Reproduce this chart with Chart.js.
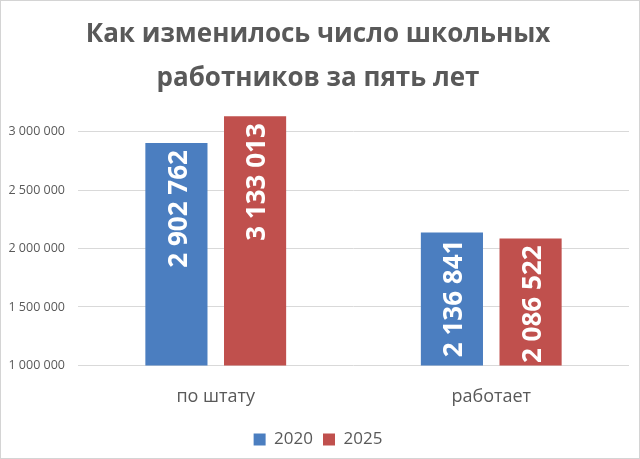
<!DOCTYPE html>
<html>
<head>
<meta charset="utf-8">
<script src="https://cdn.jsdelivr.net/npm/chart.js@4"></script>
<style>
html,body{margin:0;padding:0;background:#fff;}
#wrap{position:absolute;left:0;top:0;width:638px;height:457px;border:1px solid #d4d4d4;background:#fff;}
canvas{display:block;}
</style>
</head>
<body>
<div id="wrap"><canvas id="c" width="638" height="457"></canvas></div>
<script>
const categories = ['по штату', 'работает'];
const seriesNames = ['2020', '2025'];
const values2020 = [2902762, 2136841];
const values2025 = [3133013, 2086522];
const yTicks = [1000000, 1500000, 2000000, 2500000, 3000000];
const titleLines = ['Как изменилось число школьных', 'работников за пять лет'];

const fmt = v => String(v).replace(/\B(?=(\d{3})+(?!\d))/g, ' ');

const barLabels = {
  id: 'barLabels',
  afterDatasetsDraw(chart) {
    const ctx = chart.ctx;
    ctx.save();
    ctx.fillStyle = '#ffffff';
    ctx.font = 'bold 26px "Open Sans", sans-serif';
    chart.data.datasets.forEach((ds, di) => {
      chart.getDatasetMeta(di).data.forEach((bar, i) => {
        ctx.save();
        ctx.translate(bar.x + 2, bar.y + 7);
        ctx.rotate(-Math.PI / 2);
        ctx.textAlign = 'right';
        ctx.textBaseline = 'middle';
        ctx.fillText(fmt(ds.data[i]), 0, 1);
        ctx.restore();
      });
    });
    ctx.restore();
  }
};

new Chart(document.getElementById('c'), {
  type: 'bar',
  data: {
    labels: categories,
    datasets: [
      { label: seriesNames[0], data: values2020, backgroundColor: '#4b7ec0', categoryPercentage: 0.571, barPercentage: 0.79 },
      { label: seriesNames[1], data: values2025, backgroundColor: '#c0504d', categoryPercentage: 0.571, barPercentage: 0.79 }
    ]
  },
  options: {
    responsive: false,
    animation: false,
    layout: { padding: { left: 6, right: 10, top: 0, bottom: 0 } },
    plugins: {
      title: {
        display: true,
        text: titleLines,
        color: '#595959',
        font: { family: '"Open Sans", sans-serif', size: 26, weight: 'bold', lineHeight: 1.68 },
        padding: { top: 12, bottom: 8 }
      },
      legend: {
        position: 'bottom',
        labels: {
          color: '#595959',
          font: { family: '"Open Sans", sans-serif', size: 17 },
          boxWidth: 12, boxHeight: 12, padding: 10
        }
      },
      tooltip: { enabled: false }
    },
    scales: {
      x: {
        grid: { display: false },
        border: { display: false },
        ticks: { color: '#595959', font: { family: '"Open Sans", sans-serif', size: 18 }, padding: 13 }
      },
      y: {
        min: yTicks[0],
        max: 3200000,
        afterBuildTicks: scale => { scale.ticks = yTicks.map(v => ({ value: v })); },
        afterFit: scale => { scale.width = 71; },
        grid: { color: '#d9d9d9', drawTicks: false },
        border: { display: false },
        ticks: { color: '#595959', font: { family: '"Open Sans", sans-serif', size: 12.5 }, padding: 13, callback: v => fmt(v) }
      }
    }
  },
  plugins: [barLabels]
});
</script>
</body>
</html>
